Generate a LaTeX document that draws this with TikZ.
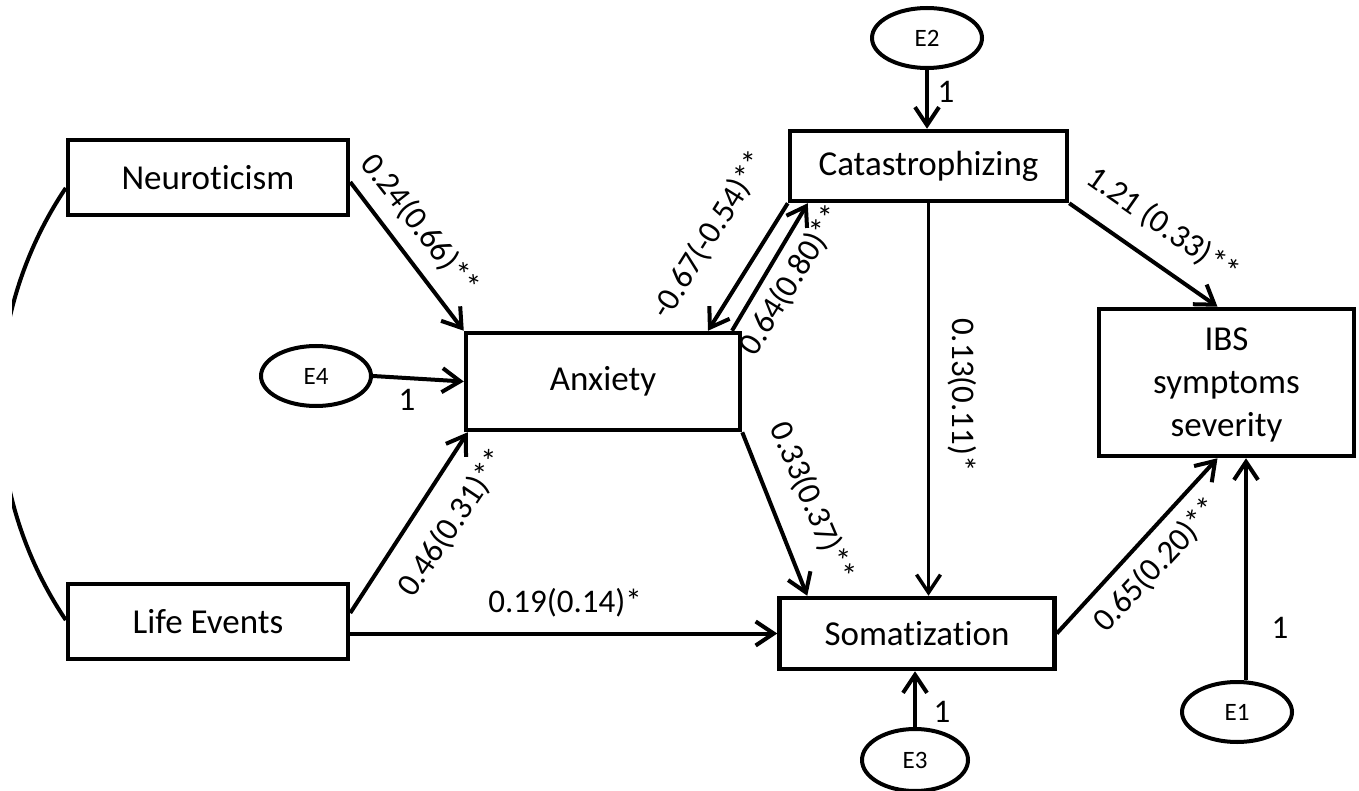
\documentclass[tikz,border=0pt]{standalone}
\usepackage{fontspec}
\setmainfont{Carlito}[Ligatures={NoCommon}]
\usetikzlibrary{arrows.meta,shapes.geometric}
\begin{document}
\begin{tikzpicture}[x=1pt,y=-1pt,
  box/.style={draw, line width=4.5pt, rectangle, inner sep=0pt, font=\fontsize{35}{43}\selectfont, align=center},
  err/.style={draw, ellipse, line width=4pt, inner sep=0pt, minimum width=110pt, minimum height=60pt, font=\fontsize{25}{30}\selectfont},
  arr/.style={line width=4pt, -{Straight Barb[length=18pt,width=24pt]}},
  lab/.style={font=\fontsize{33}{40}\selectfont, inner sep=0pt},
  one/.style={font=\fontsize{33}{40}\selectfont, inner sep=0pt},
]
\useasboundingbox (0,0) rectangle (1359,791);

% boxes
\node[box, minimum width=280pt, minimum height=75pt] (neu) at (208,177.5) {Neuroticism};
\node[box, minimum width=274pt, minimum height=97pt] (anx) at (603,381.5) {Anxiety};
\node[box, minimum width=280pt, minimum height=75pt] (life) at (208,621.5) {Life Events};
\node[box, minimum width=277pt, minimum height=70pt] (cat) at (928.5,166) {Catastrophizing};
\node[box, minimum width=275pt, minimum height=71pt] (som) at (917,633.5) {Somatization};
\node[box, minimum width=255pt, minimum height=147pt, text depth=0pt] (ibs) at (1226.5,382.5) {IBS\\symptoms\\severity};

% error terms
\node[err] (E2) at (927,38) {E2};
\node[err] (E4) at (316,376) {E4};
\node[err, minimum width=106pt, minimum height=62pt] (E3) at (915,760) {E3};
\node[err] (E1) at (1237,712) {E1};

% correlation arc
\begin{scope}
\clip (12,0) rectangle (1359,791);
\draw[line width=4pt] ([yshift=-10.5pt]neu.west) .. controls +(-87.6,130.3) and +(-87.6,-130.3) .. ([yshift=1.5pt]life.west);
\end{scope}

% paths
\draw[arr] ([yshift=-4.5pt]neu.east) -- (anx.north west);
\draw[arr] (E4.east) -- (anx.west);
\draw[arr] ([yshift=8.5pt]life.east) -- ([xshift=4pt]anx.south west);
\draw[arr] (life.east |- som.west) -- (som.west);
\draw[arr] (cat.south west) -- ([xshift=105pt]anx.north);
\draw[arr] ([xshift=129pt]anx.north) -- ([xshift=20pt]cat.south west);
\draw[arr] (anx.south east) -- ([xshift=30pt]som.north west);
\draw[arr, line width=3.5pt] (cat.south) -- (cat.south |- som.north);
\draw[arr] (cat.south east) -- ([xshift=-9pt]ibs.north);
\draw[arr] (som.east) -- ([xshift=-9pt]ibs.south);
\draw[arr] ([xshift=9pt]E1.north) -- ([xshift=9pt]E1.north |- ibs.south);
\draw[arr] (E2.south) -- (E2.south |- cat.north);
\draw[arr] (E3.north) -- (E3.north |- som.south);

% labels
\node[lab, rotate=-52] (l1) at (420,225) {0.24(0.66)**};
\node[lab, rotate=58] (l2) at (710,235) {-0.67(-0.54)**};
\node[lab, rotate=58] (l3) at (792,280) {0.64(0.80)**};
\node[lab, rotate=-35] (l4) at (1163,225) {1.21 (0.33)**};
\node[lab, rotate=-90] (l5) at (962,395) {0.13(0.11)*};
\node[lab, rotate=-67] (l6) at (812,502) {0.33(0.37)**};
\node[lab, rotate=56] (l7) at (453,523) {0.46(0.31)**};
\node[lab] (l8) at (565,603) {0.19(0.14)*};
\node[lab, rotate=47] (l9) at (1157,565) {0.65(0.20)**};

\node[one] (o2) at (946,92) {1};
\node[one] (o4) at (407,400) {1};
\node[one] (o3) at (942,712) {1};
\node[one] (o1) at (1280,628) {1};
\end{tikzpicture}
\end{document}
